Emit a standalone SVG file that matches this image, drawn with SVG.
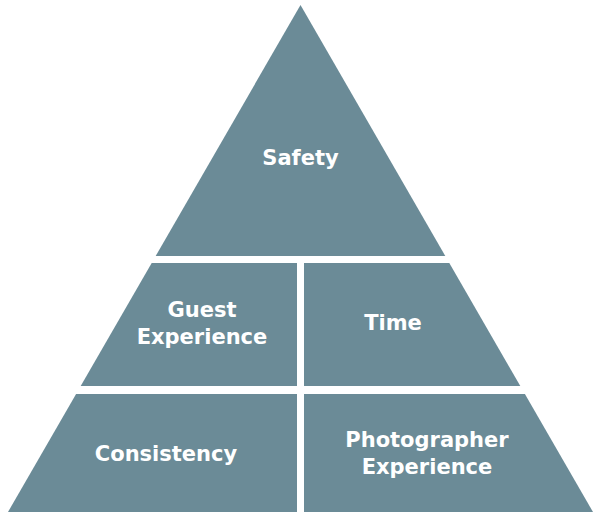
<svg xmlns="http://www.w3.org/2000/svg" width="600" height="519" viewBox="0 0 600 519">
<style>
.p{fill:#6b8b97}
.t{fill:#ffffff;font-family:"DejaVu Sans","Open Sans",sans-serif;font-weight:700;font-size:21px;text-anchor:middle}
</style>
<rect width="600" height="519" fill="#ffffff"/>
<g id="safety">
<polygon class="p" points="300.5,5 445.3,256 155.7,256"/>
<text class="t" x="300.5" y="165">Safety</text>
</g>
<g id="guest-experience">
<polygon class="p" points="151.7,263 297,263 297,386 80.7,386"/>
<text class="t" x="202" y="317">Guest</text>
<text class="t" x="202" y="344">Experience</text>
</g>
<g id="time">
<polygon class="p" points="304,263 449.3,263 520.3,386 304,386"/>
<text class="t" x="393" y="330">Time</text>
</g>
<g id="consistency">
<polygon class="p" points="76.1,394 297,394 297,512 8,512"/>
<text class="t" x="166" y="461">Consistency</text>
</g>
<g id="photographer-experience">
<polygon class="p" points="304,394 524.9,394 593,512 304,512"/>
<text class="t" x="427" y="447">Photographer</text>
<text class="t" x="427" y="474">Experience</text>
</g>
<g id="connectors"/>
</svg>
